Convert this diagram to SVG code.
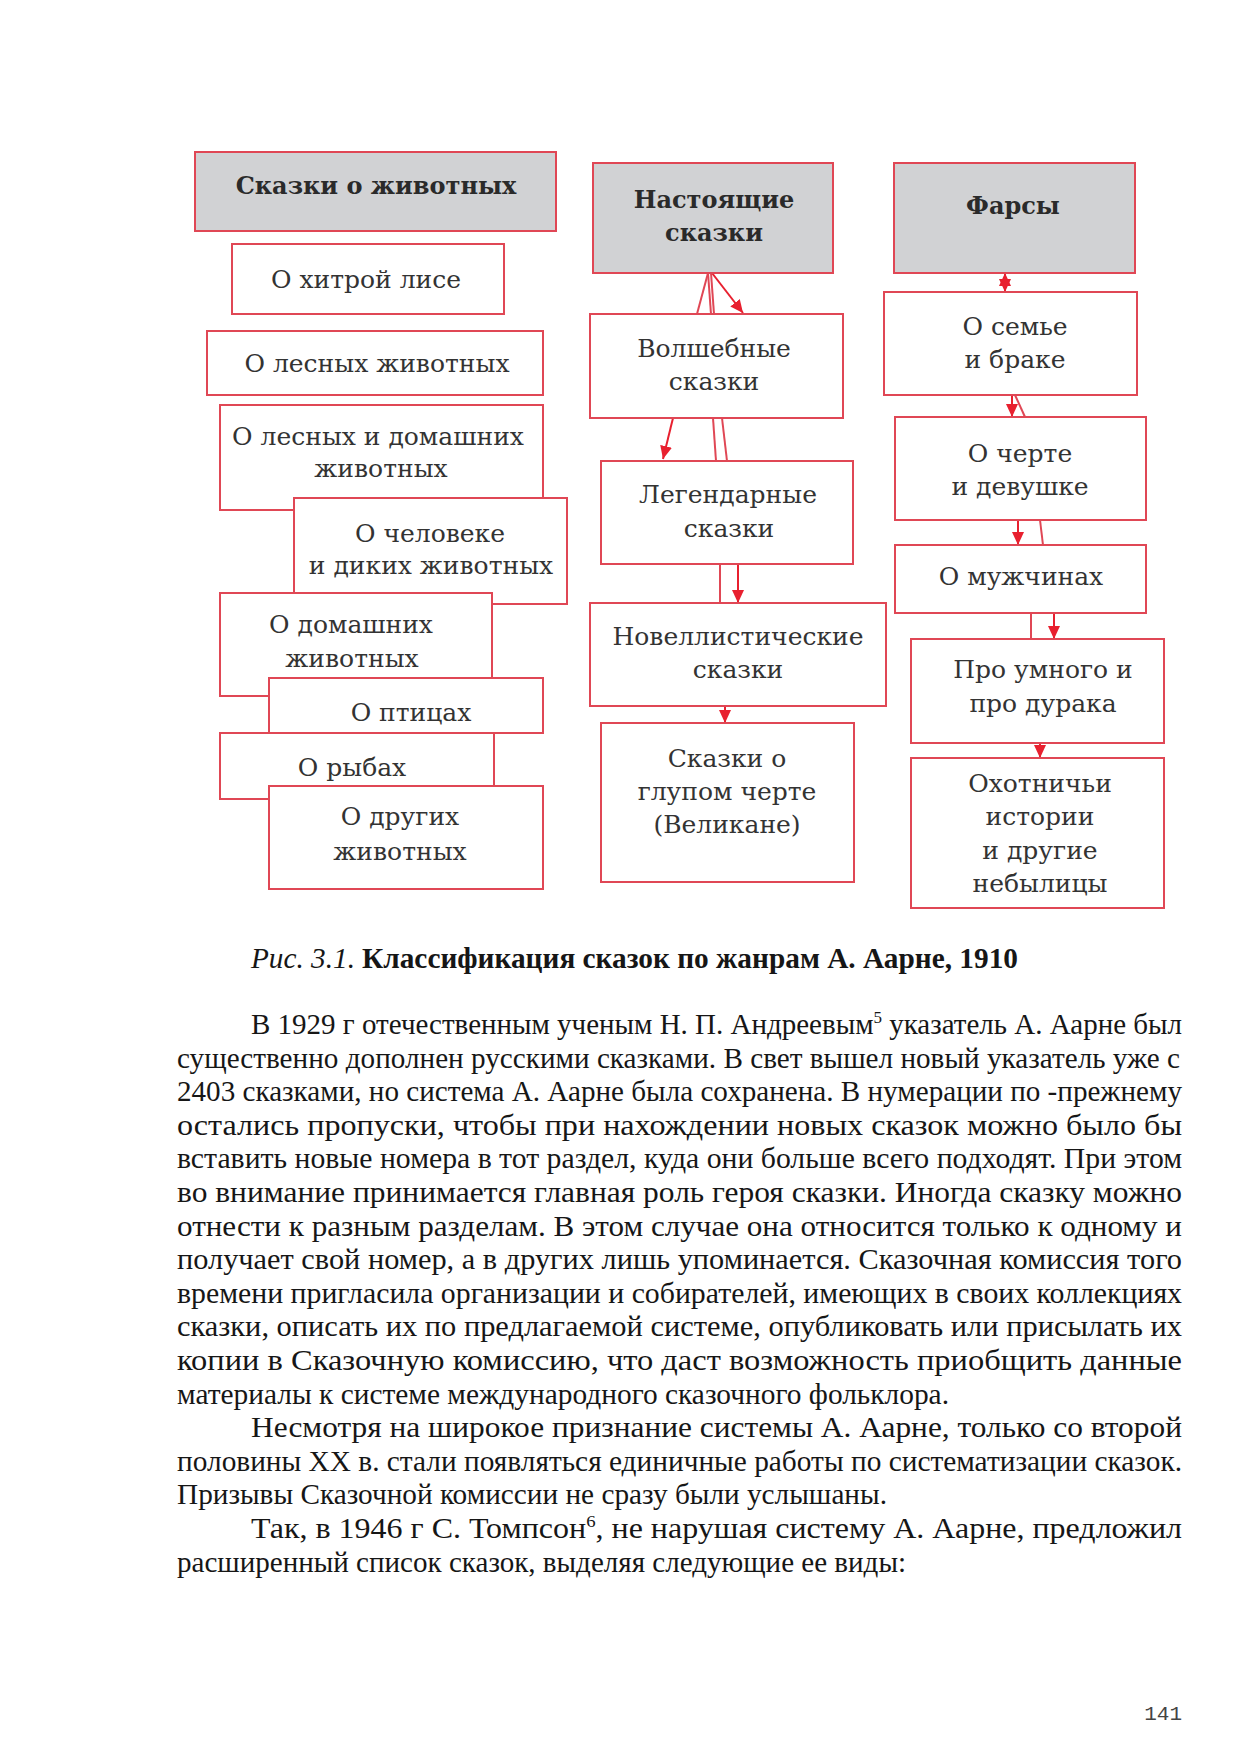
<svg xmlns="http://www.w3.org/2000/svg" width="1241" height="1755" viewBox="0 0 1241 1755">
<defs>
<style>
.box{fill:#ffffff;stroke:#e04755;stroke-width:2}
.head{fill:#d1d2d4;stroke:#e04755;stroke-width:2}
.t{font-family:"DejaVu Serif","Liberation Serif",serif;font-size:25px;fill:#333333;text-anchor:middle}
.tb{font-family:"DejaVu Serif","Liberation Serif",serif;font-size:24px;font-weight:bold;fill:#2a2a2a;text-anchor:middle}
.ln{stroke:#e04755;stroke-width:2;fill:none}
.ar{stroke:#e8202f;stroke-width:2;fill:none;marker-end:url(#ah)}
.body{font-family:"Liberation Serif","Times New Roman",serif;font-size:29px;fill:#161616}
</style>
<marker id="ah" markerUnits="userSpaceOnUse" markerWidth="14" markerHeight="12" refX="13" refY="6" orient="auto">
<path d="M0,0 L13,6 L0,12 Z" fill="#e8202f"/>
</marker>
</defs>
<rect width="1241" height="1755" fill="#ffffff"/>

<g id="connectors">
<line class="ln" x1="708" y1="273" x2="697" y2="314"/>
<line class="ln" x1="708" y1="273" x2="711" y2="314"/>
<line class="ln" x1="711" y1="273" x2="714" y2="314"/>
<line class="ar" x1="712" y1="273" x2="743" y2="313"/>
<line class="ar" x1="673" y1="418" x2="663" y2="459"/>
<line class="ln" x1="713" y1="418" x2="716" y2="461"/>
<line class="ln" x1="722" y1="418" x2="727" y2="461"/>
<line class="ln" x1="720" y1="564" x2="720" y2="603"/>
<line class="ar" x1="738" y1="564" x2="738" y2="603"/>
<line class="ar" x1="725" y1="706" x2="725" y2="723"/>
<line class="ar" x1="1005" y1="280" x2="1005" y2="292"/>
<line class="ar" x1="1005" y1="285" x2="1005" y2="273"/>
<line class="ar" x1="1012" y1="395" x2="1012" y2="417"/>
<line class="ln" x1="1015" y1="395" x2="1025" y2="417"/>
<line class="ar" x1="1018" y1="520" x2="1018" y2="545"/>
<line class="ln" x1="1040" y1="520" x2="1043" y2="545"/>
<line class="ln" x1="1031" y1="613" x2="1031" y2="639"/>
<line class="ar" x1="1054" y1="613" x2="1054" y2="639"/>
<line class="ar" x1="1040" y1="743" x2="1040" y2="758"/>
</g>

<g id="n-animals">
<rect class="head" x="195" y="152" width="361" height="79"/>
<text class="tb" x="376" y="194">Сказки о животных</text>
</g>
<g id="n-fox">
<rect class="box" x="232" y="244" width="272" height="70"/>
<text class="t" x="366" y="288">О хитрой лисе</text>
</g>
<g id="n-forest">
<rect class="box" x="207" y="331" width="336" height="64"/>
<text class="t" x="377" y="372">О лесных животных</text>
</g>
<g id="n-forest-domestic">
<rect class="box" x="220" y="405" width="323" height="105"/>
<text class="t" x="378" y="445">О лесных и домашних</text>
<text class="t" x="381" y="477">животных</text>
</g>
<g id="n-man-wild">
<rect class="box" x="294" y="498" width="273" height="106"/>
<text class="t" x="430" y="542">О человеке</text>
<text class="t" x="431" y="574">и диких животных</text>
</g>
<g id="n-domestic">
<rect class="box" x="220" y="593" width="272" height="103"/>
<text class="t" x="351" y="633">О домашних</text>
<text class="t" x="352" y="667">животных</text>
</g>
<g id="n-birds">
<rect class="box" x="269" y="678" width="274" height="55"/>
<text class="t" x="411" y="721">О птицах</text>
</g>
<g id="n-fish">
<rect class="box" x="220" y="733" width="274" height="66"/>
<text class="t" x="352" y="776">О рыбах</text>
</g>
<g id="n-other">
<rect class="box" x="269" y="786" width="274" height="103"/>
<text class="t" x="400" y="825">О других</text>
<text class="t" x="400" y="860">животных</text>
</g>

<g id="n-real">
<rect class="head" x="593" y="163" width="240" height="110"/>
<text class="tb" x="714" y="208">Настоящие</text>
<text class="tb" x="714" y="241">сказки</text>
</g>
<g id="n-magic">
<rect class="box" x="590" y="314" width="253" height="104"/>
<text class="t" x="714" y="357">Волшебные</text>
<text class="t" x="714" y="390">сказки</text>
</g>
<g id="n-legend">
<rect class="box" x="601" y="461" width="252" height="103"/>
<text class="t" x="728" y="503">Легендарные</text>
<text class="t" x="729" y="537">сказки</text>
</g>
<g id="n-novel">
<rect class="box" x="590" y="603" width="296" height="103"/>
<text class="t" x="738" y="645">Новеллистические</text>
<text class="t" x="738" y="678">сказки</text>
</g>
<g id="n-devil">
<rect class="box" x="601" y="723" width="253" height="159"/>
<text class="t" x="727" y="767">Сказки о</text>
<text class="t" x="727" y="800">глупом черте</text>
<text class="t" x="727" y="833">(Великане)</text>
</g>

<g id="n-farce">
<rect class="head" x="894" y="163" width="241" height="110"/>
<text class="tb" x="1013" y="214">Фарсы</text>
</g>
<g id="n-family">
<rect class="box" x="884" y="292" width="253" height="103"/>
<text class="t" x="1015" y="335">О семье</text>
<text class="t" x="1015" y="368">и браке</text>
</g>
<g id="n-devil-girl">
<rect class="box" x="895" y="417" width="251" height="103"/>
<text class="t" x="1020" y="462">О черте</text>
<text class="t" x="1020" y="495">и девушке</text>
</g>
<g id="n-men">
<rect class="box" x="895" y="545" width="251" height="68"/>
<text class="t" x="1021" y="585">О мужчинах</text>
</g>
<g id="n-smart-fool">
<rect class="box" x="911" y="639" width="253" height="104"/>
<text class="t" x="1043" y="678">Про умного и</text>
<text class="t" x="1043" y="712">про дурака</text>
</g>
<g id="n-hunting">
<rect class="box" x="911" y="758" width="253" height="150"/>
<text class="t" x="1040" y="792">Охотничьи</text>
<text class="t" x="1040" y="825">истории</text>
<text class="t" x="1040" y="859">и другие</text>
<text class="t" x="1040" y="892">небылицы</text>
</g>

<g id="caption">
<text class="body" x="251" y="968" font-style="italic" textLength="104" lengthAdjust="spacingAndGlyphs">Рис. 3.1.</text>
<text class="body" x="362" y="968" font-weight="bold" textLength="656" lengthAdjust="spacingAndGlyphs">Классификация сказок по жанрам А. Аарне, 1910</text>
</g>

<g id="body-text">
<text class="body" x="251" y="1034" textLength="931" lengthAdjust="spacingAndGlyphs">В 1929 г отечественным ученым Н. П. Андреевым<tspan font-size="17" dy="-11">5</tspan><tspan dy="11"> указатель А. Аарне был</tspan></text>
<text class="body" x="177" y="1067.6" textLength="1003" lengthAdjust="spacingAndGlyphs">существенно дополнен русскими сказками. В свет вышел новый указатель уже с</text>
<text class="body" x="177" y="1101.2" textLength="1005" lengthAdjust="spacingAndGlyphs">2403 сказками, но система А. Аарне была сохранена. В нумерации по -прежнему</text>
<text class="body" x="177" y="1134.8" textLength="1005" lengthAdjust="spacingAndGlyphs">остались пропуски, чтобы при нахождении новых сказок можно было бы</text>
<text class="body" x="177" y="1168.4" textLength="1005" lengthAdjust="spacingAndGlyphs">вставить новые номера в тот раздел, куда они больше всего подходят. При этом</text>
<text class="body" x="177" y="1202" textLength="1005" lengthAdjust="spacingAndGlyphs">во внимание принимается главная роль героя сказки. Иногда сказку можно</text>
<text class="body" x="177" y="1235.6" textLength="1005" lengthAdjust="spacingAndGlyphs">отнести к разным разделам. В этом случае она относится только к одному и</text>
<text class="body" x="177" y="1269.2" textLength="1005" lengthAdjust="spacingAndGlyphs">получает свой номер, а в других лишь упоминается. Сказочная комиссия того</text>
<text class="body" x="177" y="1302.8" textLength="1005" lengthAdjust="spacingAndGlyphs">времени пригласила организации и собирателей, имеющих в своих коллекциях</text>
<text class="body" x="177" y="1336.4" textLength="1005" lengthAdjust="spacingAndGlyphs">сказки, описать их по предлагаемой системе, опубликовать или присылать их</text>
<text class="body" x="177" y="1370" textLength="1005" lengthAdjust="spacingAndGlyphs">копии в Сказочную комиссию, что даст возможность приобщить данные</text>
<text class="body" x="177" y="1403.6" textLength="772" lengthAdjust="spacingAndGlyphs">материалы к системе международного сказочного фольклора.</text>
<text class="body" x="251" y="1437.2" textLength="931" lengthAdjust="spacingAndGlyphs">Несмотря на широкое признание системы А. Аарне, только со второй</text>
<text class="body" x="177" y="1470.8" textLength="1005" lengthAdjust="spacingAndGlyphs">половины XX в. стали появляться единичные работы по систематизации сказок.</text>
<text class="body" x="177" y="1504.4" textLength="710" lengthAdjust="spacingAndGlyphs">Призывы Сказочной комиссии не сразу были услышаны.</text>
<text class="body" x="251" y="1538" textLength="931" lengthAdjust="spacingAndGlyphs">Так, в 1946 г С. Томпсон<tspan font-size="17" dy="-11">6</tspan><tspan dy="11">, не нарушая систему А. Аарне, предложил</tspan></text>
<text class="body" x="177" y="1571.6" textLength="729" lengthAdjust="spacingAndGlyphs">расширенный список сказок, выделяя следующие ее виды:</text>
</g>

<text x="1182" y="1720" font-family="Liberation Mono, monospace" font-size="21" fill="#444444" text-anchor="end">141</text>
</svg>
